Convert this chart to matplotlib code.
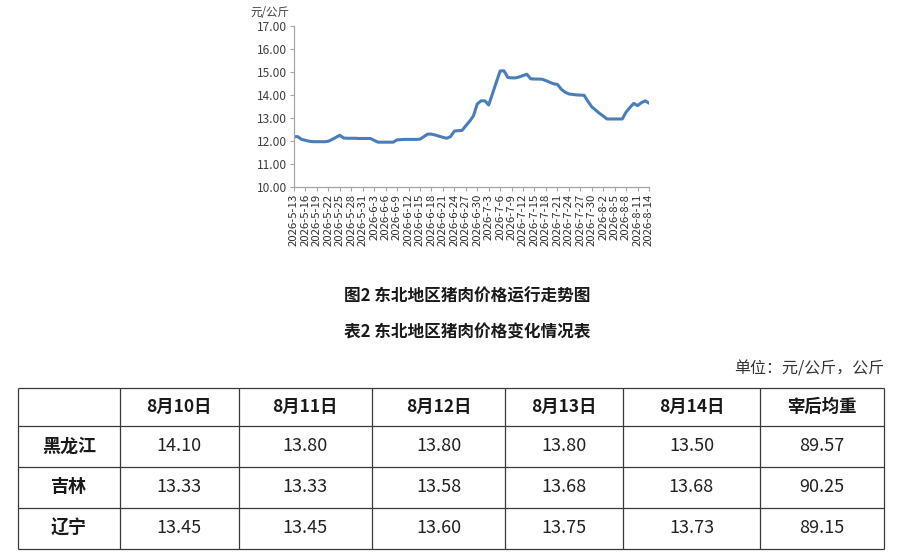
import numpy as np
import pandas as pd
import matplotlib
matplotlib.use('Agg')
import matplotlib.pyplot as plt

plt.rcParams['font.family'] = ['Noto Sans CJK SC', 'DejaVu Sans']

# Daily pork price, Northeast region (yuan/kg), 2026-5-13 .. 2026-8-14
start_date = '2026-05-13'
prices = [
    12.18, 12.18, 12.06, 12.02, 11.98, 11.96, 11.96, 11.96, 11.96, 11.98,
    12.06, 12.15, 12.24, 12.12, 12.11, 12.11, 12.11, 12.10, 12.10, 12.10,
    12.10, 12.02, 11.94, 11.94, 11.94, 11.94, 11.94, 12.04, 12.05, 12.06,
    12.06, 12.06, 12.06, 12.07, 12.18, 12.29, 12.29, 12.25, 12.20, 12.15,
    12.11, 12.18, 12.42, 12.44, 12.45, 12.65, 12.85, 13.08, 13.60, 13.74,
    13.74, 13.56, 14.05, 14.55, 15.04, 15.05, 14.76, 14.74, 14.74, 14.78,
    14.84, 14.90, 14.70, 14.69, 14.69, 14.68, 14.62, 14.55, 14.48, 14.46,
    14.25, 14.12, 14.04, 14.02, 14.00, 13.99, 13.98, 13.72, 13.48, 13.34,
    13.20, 13.08, 12.95, 12.95, 12.95, 12.95, 12.95, 13.25, 13.45, 13.63,
    13.53, 13.66, 13.74, 13.64,
]
dates = pd.date_range(start_date, periods=len(prices), freq='D')
date_labels = [f'{d.year}-{d.month}-{d.day}' for d in dates]
y_ticks = [10, 11, 12, 13, 14, 15, 16, 17]

# Table 2
table_dates = ['8月10日', '8月11日', '8月12日', '8月13日', '8月14日']
weight_header = '宰后均重'
regions = ['黑龙江', '吉林', '辽宁']
heilongjiang = ['14.10', '13.80', '13.80', '13.80', '13.50']
jilin = ['13.33', '13.33', '13.58', '13.68', '13.68']
liaoning = ['13.45', '13.45', '13.60', '13.75', '13.73']
weights = ['89.57', '90.25', '89.15']

fig_title = '图2 东北地区猪肉价格运行走势图'
table_title = '表2 东北地区猪肉价格变化情况表'
unit_note = '单位：元/公斤，公斤'

W, H = 900, 553
fig = plt.figure(figsize=(W / 100, H / 100), dpi=100)
fig.patch.set_facecolor('white')

# ---- line chart ----
ax = fig.add_axes([294 / W, 1 - 186.7 / H, 355 / W, (186.7 - 26) / H])
x = np.arange(len(prices))
ax.plot(x, prices, color='#4a7ebb', linewidth=2.2, solid_joinstyle='round')
ax.set_xlim(0, len(prices) - 1)
ax.set_ylim(10, 17)
ax.set_yticks(y_ticks)
ax.set_yticklabels([f'{v:.2f}' for v in y_ticks], fontsize=8.6, color='#404040')
ax.set_xticks(x[::3])
ax.set_xticklabels(date_labels[::3], rotation=90, fontsize=8.2, color='#303030')
for side in ['top', 'right']:
    ax.spines[side].set_visible(False)
for side in ['left', 'bottom']:
    ax.spines[side].set_color('#a6a6a6')
    ax.spines[side].set_linewidth(0.9)
ax.tick_params(axis='both', color='#a6a6a6', length=3, width=0.8, pad=2)
fig.text(250 / W, 1 - 13 / H, '元/公斤', fontsize=8.3, color='#404040',
         ha='left', va='center')

# ---- captions ----
fig.text(467 / W, 1 - 297 / H, fig_title, fontsize=12, fontweight='bold',
         ha='center', va='center', color='#1a1a1a')
fig.text(467 / W, 1 - 332 / H, table_title, fontsize=12, fontweight='bold',
         ha='center', va='center', color='#1a1a1a')
fig.text(884 / W, 1 - 369 / H, unit_note, fontsize=11.5,
         ha='right', va='center', color='#333333')

# ---- table ----
tab = fig.add_axes([0, 0, 1, 1])
tab.set_xlim(0, W)
tab.set_ylim(H, 0)
tab.axis('off')

col_edges = [17.5, 120, 238.5, 372, 505, 623, 760, 883.5]
row_edges = [387.5, 425.5, 466.5, 507.5, 549]
line_color = '#3a3a3a'
tab.hlines(row_edges, col_edges[0], col_edges[-1], color=line_color, linewidth=0.9)
tab.vlines(col_edges, row_edges[0], row_edges[-1], color=line_color, linewidth=0.9)

col_c = [(a + b) / 2 for a, b in zip(col_edges[:-1], col_edges[1:])]
row_c = [(a + b) / 2 for a, b in zip(row_edges[:-1], row_edges[1:])]

for j, head in enumerate(table_dates + [weight_header]):
    tab.text(col_c[j + 1], row_c[0], head, fontsize=12.5, fontweight='bold',
             ha='center', va='center', color='#1a1a1a')

rows = [heilongjiang, jilin, liaoning]
for i, (name, vals, w) in enumerate(zip(regions, rows, weights)):
    tab.text(col_c[0], row_c[i + 1], name, fontsize=13, fontweight='bold',
             ha='center', va='center', color='#1a1a1a')
    for j, v in enumerate(vals + [w]):
        tab.text(col_c[j + 1], row_c[i + 1], v, fontsize=13,
                 ha='center', va='center', color='#222222')

fig.savefig('out.png', dpi=100, facecolor='white')
